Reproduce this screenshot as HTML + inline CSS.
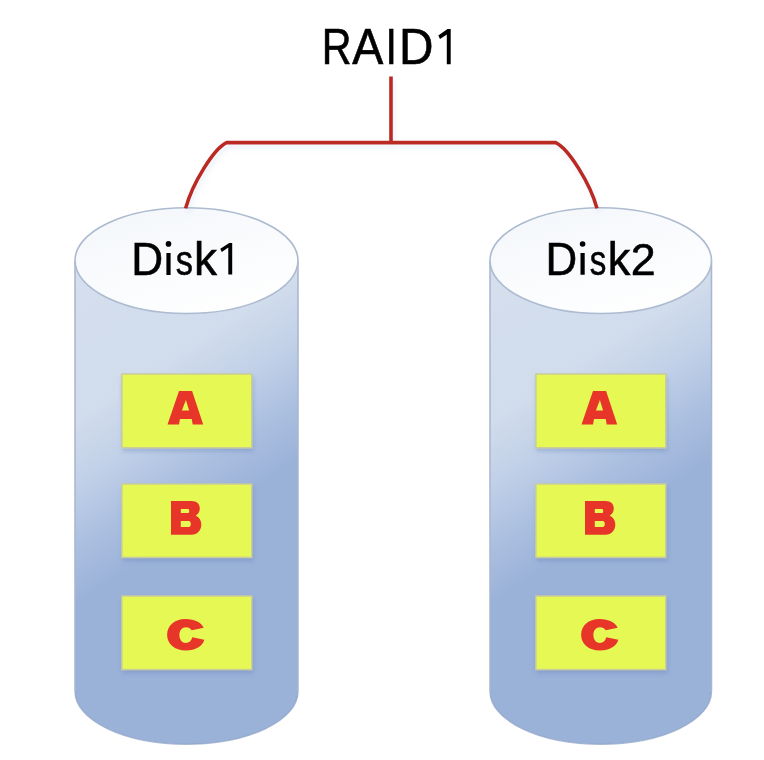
<!DOCTYPE html>
<html><head><meta charset="utf-8">
<style>
html,body{margin:0;padding:0;background:#fff;}
body{width:764px;height:760px;overflow:hidden;position:relative;}
svg{position:absolute;left:0;top:0;will-change:transform;}
</style></head>
<body>
<svg width="764" height="760" viewBox="0 0 764 760">
<defs>
  <linearGradient id="body2" gradientUnits="userSpaceOnUse" x1="75" y1="260.6" x2="238.5" y2="512.3">
    <stop offset="0" stop-color="#d5dfee"/>
    <stop offset="0.45" stop-color="#d1dcec"/>
    <stop offset="0.62" stop-color="#c2d1e8"/>
    <stop offset="0.8" stop-color="#abbfe0"/>
    <stop offset="0.97" stop-color="#9ab1d8"/>
    <stop offset="1" stop-color="#9ab1d8"/>
  </linearGradient>
  <filter id="sh" x="-20%" y="-20%" width="140%" height="150%">
    <feGaussianBlur in="SourceAlpha" stdDeviation="2.2"/>
    <feOffset dx="1" dy="3" result="o"/>
    <feFlood flood-color="#5f7fb5" flood-opacity="0.35"/>
    <feComposite in2="o" operator="in"/>
    <feMerge><feMergeNode/><feMergeNode in="SourceGraphic"/></feMerge>
  </filter>
  <filter id="lsh" x="-10%" y="-30%" width="120%" height="160%">
    <feGaussianBlur in="SourceAlpha" stdDeviation="2.5"/>
    <feOffset dx="2" dy="4" result="o"/>
    <feFlood flood-color="#7f9cc8" flood-opacity="0.16"/>
    <feComposite in2="o" operator="in"/>
    <feMerge><feMergeNode/><feMergeNode in="SourceGraphic"/></feMerge>
  </filter>
  <linearGradient id="top" gradientUnits="objectBoundingBox" x1="0.2" y1="0" x2="0.8" y2="1">
    <stop offset="0" stop-color="#f4f7fb"/>
    <stop offset="1" stop-color="#ffffff"/>
  </linearGradient>
  <g id="cyl">
    <path d="M75 260.6 V691.4 A111.5 52.9 0 0 0 298 691.4 V260.6 Z" fill="url(#body2)"/>
    <path d="M75 260.6 V691.4 M298 691.4 V260.6" fill="none" stroke="#a7b7ce" stroke-width="1.5"/>
    <path d="M75 691.4 A111.5 52.9 0 0 0 298 691.4" fill="none" stroke="#8ea3c4" stroke-width="1.4" stroke-opacity="0.7"/>
    <ellipse cx="186.5" cy="260.6" rx="111.5" ry="52.9" fill="url(#top)" stroke="#adbbd0" stroke-width="1.6"/>
  </g>
  <g id="boxes">
    <g filter="url(#sh)">
      <rect x="121.9" y="374" width="129.9" height="73.8" fill="#e6f852" stroke="#c9cc9c" stroke-width="1.5"/>
      <rect x="121.9" y="484" width="129.9" height="73.4" fill="#e6f852" stroke="#c9cc9c" stroke-width="1.5"/>
      <rect x="121.9" y="596" width="129.9" height="73.6" fill="#e6f852" stroke="#c9cc9c" stroke-width="1.5"/>
    </g>
    <g fill="#e8352a" fill-rule="evenodd">
      <path d="M167.5 424.6 L179 391 H192.1 L203.2 424.6 H192.7 L191.7 419 H180 L179 424.6 Z M185.9 400.1 L189.1 410.5 H181.9 Z"/>
      <path d="M171 500.9 H191.5 C197 500.9 199.8 504 199.8 508.5 C199.8 512 197.8 514.6 195.6 515.7 C199 517 201.3 520 201.3 524.5 C201.3 530.5 197.5 534.7 191.5 534.7 H171 Z M180.8 508.9 H188 C189 508.9 189.2 509.8 189.2 511 C189.2 512.3 189 513.1 188 513.1 H180.8 Z M180.8 521.1 H188.8 C190.2 521.1 190.8 522.5 190.8 524 C190.8 525.6 190.2 527 188.8 527 H180.8 Z"/>
      <path d="M203.7 627.8 L191.7 630.3 C190.5 628.3 188.5 627.2 186 627.2 C182 627.2 179.4 630.5 179.4 635 C179.4 639.5 182 643 186 643 C189 643 191.3 641 192.3 637.3 L204.3 639.8 C202.5 646.5 195.5 650.5 186 650.5 C174.5 650.5 167.1 644 167.1 634.8 C167.1 625.5 174.5 619 185.5 619 C195 619 201.5 622.5 203.7 627.8 Z"/>
    </g>
  </g>
</defs>

<use href="#cyl"/>
<use href="#cyl" transform="matrix(0.9933 0 0 1 415.5 0)"/>
<!-- connector -->
<path d="M391 76.5 V142.5 M185.6 208.4 C192.3 183.4 213.9 148.5 226.6 142.6 H555.7 C568.4 148.5 590.3 183.4 597 208.4" fill="none" stroke="#bb2922" stroke-width="3.6" filter="url(#lsh)"/>


<g font-family="Liberation Sans, sans-serif" font-size="200" fill="#000" stroke="#000" stroke-width="2.5">
<text transform="matrix(0.2059 0 0 0.2486 321.71 64.30)">R</text>
<text transform="matrix(0.2326 0 0 0.2504 352.27 64.30)">A</text>
<text transform="matrix(0.2053 0 0 0.2486 385.41 64.30)">I</text>
<text transform="matrix(0.2387 0 0 0.2486 398.88 64.30)">D</text>
<text transform="matrix(0.2210 0 0 0.2326 131.16 274.90)">D</text>
<text transform="matrix(0.1724 0 0 0.2092 175.77 274.88)">s</text>
<text transform="matrix(0.2299 0 0 0.2317 193.91 274.70)">k</text>
<text transform="matrix(0.2193 0 0 0.2297 545.49 274.80)">D</text>
<text transform="matrix(0.1655 0 0 0.2083 589.81 274.78)">s</text>
<text transform="matrix(0.2253 0 0 0.2310 607.77 274.80)">k</text>
<text transform="matrix(0.2242 0 0 0.2250 630.66 274.70)">2</text>
</g>
<g fill="#000">
  <path d="M450.7 28.9 V64.2 H446.8 V34.6 L440 39 L438.3 35.6 L447.5 28.9 Z"/>
  <path d="M232.2 243.1 V274.5 H228.3 V247.6 L221.8 252 L220.3 248.7 L229.3 243.1 Z"/>
  <path d="M166.4 252.9 H170.6 V274.9 H166.4 Z M580.5 252.9 H584.7 V274.8 H580.5 Z"/>
  <circle cx="168.5" cy="243.9" r="2.8"/>
  <circle cx="582.6" cy="244" r="2.8"/>
</g>

<use href="#boxes"/>
<use href="#boxes" transform="translate(414 0)"/>
</svg>
</body></html>
